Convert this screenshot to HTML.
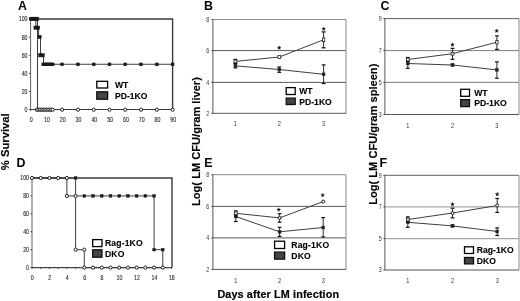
<!DOCTYPE html>
<html><head><meta charset="utf-8"><title>Figure</title>
<style>
html,body{margin:0;padding:0;background:#fff;}
body{width:520px;height:301px;overflow:hidden;font-family:"Liberation Sans", sans-serif;}
svg{display:block;font-family:"Liberation Sans", sans-serif;}
</style></head><body>
<svg width="520" height="301" viewBox="0 0 520 301">
<rect x="0" y="0" width="520" height="301" fill="#fff"/>
<defs><filter id="bl" x="-2%" y="-2%" width="104%" height="104%"><feGaussianBlur stdDeviation="0.33"/></filter></defs>
<g filter="url(#bl)">
<line x1="30.60" y1="19.00" x2="173.20" y2="19.00" stroke="#3a3a3a" stroke-width="1.4"/>
<line x1="172.60" y1="19.00" x2="172.60" y2="109.50" stroke="#3a3a3a" stroke-width="1.4"/>
<line x1="30.60" y1="109.50" x2="172.60" y2="109.50" stroke="#444" stroke-width="1.1"/>
<line x1="30.60" y1="19.00" x2="30.60" y2="109.50" stroke="#606060" stroke-width="1.0"/>
<line x1="29.10" y1="109.50" x2="30.60" y2="109.50" stroke="#3c3c3c" stroke-width="1"/>
<text transform="translate(27.50,111.90) scale(0.8,1)" font-size="6.6" text-anchor="end" fill="#2a2a2a" stroke="#2a2a2a" stroke-width="0.12">0</text>
<line x1="29.10" y1="91.40" x2="30.60" y2="91.40" stroke="#3c3c3c" stroke-width="1"/>
<text transform="translate(27.50,93.80) scale(0.8,1)" font-size="6.6" text-anchor="end" fill="#2a2a2a" stroke="#2a2a2a" stroke-width="0.12">20</text>
<line x1="29.10" y1="73.30" x2="30.60" y2="73.30" stroke="#3c3c3c" stroke-width="1"/>
<text transform="translate(27.50,75.70) scale(0.8,1)" font-size="6.6" text-anchor="end" fill="#2a2a2a" stroke="#2a2a2a" stroke-width="0.12">40</text>
<line x1="29.10" y1="55.20" x2="30.60" y2="55.20" stroke="#3c3c3c" stroke-width="1"/>
<text transform="translate(27.50,57.60) scale(0.8,1)" font-size="6.6" text-anchor="end" fill="#2a2a2a" stroke="#2a2a2a" stroke-width="0.12">60</text>
<line x1="29.10" y1="37.10" x2="30.60" y2="37.10" stroke="#3c3c3c" stroke-width="1"/>
<text transform="translate(27.50,39.50) scale(0.8,1)" font-size="6.6" text-anchor="end" fill="#2a2a2a" stroke="#2a2a2a" stroke-width="0.12">80</text>
<line x1="29.10" y1="19.00" x2="30.60" y2="19.00" stroke="#3c3c3c" stroke-width="1"/>
<text transform="translate(27.50,21.40) scale(0.8,1)" font-size="6.6" text-anchor="end" fill="#2a2a2a" stroke="#2a2a2a" stroke-width="0.12">100</text>
<line x1="30.60" y1="109.50" x2="30.60" y2="110.80" stroke="#3c3c3c" stroke-width="1"/>
<text transform="translate(31.20,121.80) scale(0.8,1)" font-size="6.6" text-anchor="middle" fill="#2a2a2a" stroke="#2a2a2a" stroke-width="0.12">0</text>
<line x1="46.38" y1="109.50" x2="46.38" y2="110.80" stroke="#3c3c3c" stroke-width="1"/>
<text transform="translate(46.98,121.80) scale(0.8,1)" font-size="6.6" text-anchor="middle" fill="#2a2a2a" stroke="#2a2a2a" stroke-width="0.12">10</text>
<line x1="62.16" y1="109.50" x2="62.16" y2="110.80" stroke="#3c3c3c" stroke-width="1"/>
<text transform="translate(62.76,121.80) scale(0.8,1)" font-size="6.6" text-anchor="middle" fill="#2a2a2a" stroke="#2a2a2a" stroke-width="0.12">20</text>
<line x1="77.94" y1="109.50" x2="77.94" y2="110.80" stroke="#3c3c3c" stroke-width="1"/>
<text transform="translate(78.54,121.80) scale(0.8,1)" font-size="6.6" text-anchor="middle" fill="#2a2a2a" stroke="#2a2a2a" stroke-width="0.12">30</text>
<line x1="93.72" y1="109.50" x2="93.72" y2="110.80" stroke="#3c3c3c" stroke-width="1"/>
<text transform="translate(94.32,121.80) scale(0.8,1)" font-size="6.6" text-anchor="middle" fill="#2a2a2a" stroke="#2a2a2a" stroke-width="0.12">40</text>
<line x1="109.50" y1="109.50" x2="109.50" y2="110.80" stroke="#3c3c3c" stroke-width="1"/>
<text transform="translate(110.10,121.80) scale(0.8,1)" font-size="6.6" text-anchor="middle" fill="#2a2a2a" stroke="#2a2a2a" stroke-width="0.12">50</text>
<line x1="125.28" y1="109.50" x2="125.28" y2="110.80" stroke="#3c3c3c" stroke-width="1"/>
<text transform="translate(125.88,121.80) scale(0.8,1)" font-size="6.6" text-anchor="middle" fill="#2a2a2a" stroke="#2a2a2a" stroke-width="0.12">60</text>
<line x1="141.06" y1="109.50" x2="141.06" y2="110.80" stroke="#3c3c3c" stroke-width="1"/>
<text transform="translate(141.66,121.80) scale(0.8,1)" font-size="6.6" text-anchor="middle" fill="#2a2a2a" stroke="#2a2a2a" stroke-width="0.12">70</text>
<line x1="156.84" y1="109.50" x2="156.84" y2="110.80" stroke="#3c3c3c" stroke-width="1"/>
<text transform="translate(157.44,121.80) scale(0.8,1)" font-size="6.6" text-anchor="middle" fill="#2a2a2a" stroke="#2a2a2a" stroke-width="0.12">80</text>
<line x1="172.62" y1="109.50" x2="172.62" y2="110.80" stroke="#3c3c3c" stroke-width="1"/>
<text transform="translate(173.22,121.80) scale(0.8,1)" font-size="6.6" text-anchor="middle" fill="#2a2a2a" stroke="#2a2a2a" stroke-width="0.12">90</text>
<polyline points="30.60,19.00 37.50,19.00 37.50,109.50 172.62,109.50" fill="none" stroke="#3e3e3e" stroke-width="1.0"/>
<polyline points="30.60,19.00 35.90,19.00 35.90,28.05 38.60,28.05 38.60,37.10 40.50,37.10 40.50,55.20 43.50,55.20 43.50,64.25 172.62,64.25" fill="none" stroke="#3e3e3e" stroke-width="1.0"/>
<circle cx="36.91" cy="109.70" r="1.6" fill="#fff" stroke="#1c1c1c" stroke-width="1.0"/>
<circle cx="38.49" cy="109.70" r="1.6" fill="#fff" stroke="#1c1c1c" stroke-width="1.0"/>
<circle cx="40.07" cy="109.70" r="1.6" fill="#fff" stroke="#1c1c1c" stroke-width="1.0"/>
<circle cx="41.65" cy="109.70" r="1.6" fill="#fff" stroke="#1c1c1c" stroke-width="1.0"/>
<circle cx="43.22" cy="109.70" r="1.6" fill="#fff" stroke="#1c1c1c" stroke-width="1.0"/>
<circle cx="44.80" cy="109.70" r="1.6" fill="#fff" stroke="#1c1c1c" stroke-width="1.0"/>
<circle cx="46.38" cy="109.70" r="1.6" fill="#fff" stroke="#1c1c1c" stroke-width="1.0"/>
<circle cx="47.96" cy="109.70" r="1.6" fill="#fff" stroke="#1c1c1c" stroke-width="1.0"/>
<circle cx="49.54" cy="109.70" r="1.6" fill="#fff" stroke="#1c1c1c" stroke-width="1.0"/>
<circle cx="51.11" cy="109.70" r="1.6" fill="#fff" stroke="#1c1c1c" stroke-width="1.0"/>
<circle cx="52.69" cy="109.70" r="1.6" fill="#fff" stroke="#1c1c1c" stroke-width="1.0"/>
<circle cx="62.16" cy="109.70" r="1.6" fill="#fff" stroke="#1c1c1c" stroke-width="1.0"/>
<circle cx="77.94" cy="109.70" r="1.6" fill="#fff" stroke="#1c1c1c" stroke-width="1.0"/>
<circle cx="93.72" cy="109.70" r="1.6" fill="#fff" stroke="#1c1c1c" stroke-width="1.0"/>
<circle cx="109.50" cy="109.70" r="1.6" fill="#fff" stroke="#1c1c1c" stroke-width="1.0"/>
<circle cx="125.28" cy="109.70" r="1.6" fill="#fff" stroke="#1c1c1c" stroke-width="1.0"/>
<circle cx="141.06" cy="109.70" r="1.6" fill="#fff" stroke="#1c1c1c" stroke-width="1.0"/>
<circle cx="156.84" cy="109.70" r="1.6" fill="#fff" stroke="#1c1c1c" stroke-width="1.0"/>
<circle cx="172.62" cy="109.70" r="1.6" fill="#fff" stroke="#1c1c1c" stroke-width="1.0"/>
<rect x="29.30" y="17.20" width="3.20" height="3.20" fill="#1a1a1a" stroke="#1a1a1a" stroke-width="0.5"/>
<rect x="30.88" y="17.20" width="3.20" height="3.20" fill="#1a1a1a" stroke="#1a1a1a" stroke-width="0.5"/>
<rect x="32.46" y="17.20" width="3.20" height="3.20" fill="#1a1a1a" stroke="#1a1a1a" stroke-width="0.5"/>
<rect x="34.03" y="17.20" width="3.20" height="3.20" fill="#1a1a1a" stroke="#1a1a1a" stroke-width="0.5"/>
<rect x="35.61" y="17.20" width="3.20" height="3.20" fill="#1a1a1a" stroke="#1a1a1a" stroke-width="0.5"/>
<rect x="33.90" y="26.05" width="3.20" height="3.20" fill="#1a1a1a" stroke="#1a1a1a" stroke-width="0.5"/>
<rect x="36.50" y="26.05" width="3.20" height="3.20" fill="#1a1a1a" stroke="#1a1a1a" stroke-width="0.5"/>
<rect x="38.00" y="35.40" width="3.20" height="3.20" fill="#1a1a1a" stroke="#1a1a1a" stroke-width="0.5"/>
<rect x="38.60" y="53.70" width="3.20" height="3.20" fill="#1a1a1a" stroke="#1a1a1a" stroke-width="0.5"/>
<rect x="41.20" y="53.70" width="3.20" height="3.20" fill="#1a1a1a" stroke="#1a1a1a" stroke-width="0.5"/>
<rect x="41.82" y="62.95" width="2.80" height="2.80" fill="#1a1a1a" stroke="#1a1a1a" stroke-width="0.5"/>
<rect x="43.40" y="62.95" width="2.80" height="2.80" fill="#1a1a1a" stroke="#1a1a1a" stroke-width="0.5"/>
<rect x="44.98" y="62.95" width="2.80" height="2.80" fill="#1a1a1a" stroke="#1a1a1a" stroke-width="0.5"/>
<rect x="46.56" y="62.95" width="2.80" height="2.80" fill="#1a1a1a" stroke="#1a1a1a" stroke-width="0.5"/>
<rect x="48.14" y="62.95" width="2.80" height="2.80" fill="#1a1a1a" stroke="#1a1a1a" stroke-width="0.5"/>
<rect x="49.71" y="62.95" width="2.80" height="2.80" fill="#1a1a1a" stroke="#1a1a1a" stroke-width="0.5"/>
<rect x="51.29" y="62.95" width="2.80" height="2.80" fill="#1a1a1a" stroke="#1a1a1a" stroke-width="0.5"/>
<rect x="60.76" y="62.95" width="2.80" height="2.80" fill="#1a1a1a" stroke="#1a1a1a" stroke-width="0.5"/>
<rect x="76.54" y="62.95" width="2.80" height="2.80" fill="#1a1a1a" stroke="#1a1a1a" stroke-width="0.5"/>
<rect x="92.32" y="62.95" width="2.80" height="2.80" fill="#1a1a1a" stroke="#1a1a1a" stroke-width="0.5"/>
<rect x="108.10" y="62.95" width="2.80" height="2.80" fill="#1a1a1a" stroke="#1a1a1a" stroke-width="0.5"/>
<rect x="123.88" y="62.95" width="2.80" height="2.80" fill="#1a1a1a" stroke="#1a1a1a" stroke-width="0.5"/>
<rect x="139.66" y="62.95" width="2.80" height="2.80" fill="#1a1a1a" stroke="#1a1a1a" stroke-width="0.5"/>
<rect x="155.44" y="62.95" width="2.80" height="2.80" fill="#1a1a1a" stroke="#1a1a1a" stroke-width="0.5"/>
<rect x="171.22" y="62.95" width="2.80" height="2.80" fill="#1a1a1a" stroke="#1a1a1a" stroke-width="0.5"/>
<rect x="96.80" y="81.30" width="10.80" height="6.70" fill="#fff" stroke="#000" stroke-width="1.3"/>
<rect x="96.80" y="91.80" width="10.80" height="7.40" fill="#444" stroke="#111" stroke-width="1.3"/>
<text x="114.90" y="87.70" font-size="8.6" text-anchor="start" font-weight="bold" fill="#000" letter-spacing="0.03" stroke="#000" stroke-width="0.12">WT</text>
<text x="114.90" y="98.70" font-size="8.6" text-anchor="start" font-weight="bold" fill="#000" letter-spacing="0.03" stroke="#000" stroke-width="0.12">PD-1KO</text>
<text x="18.00" y="9.70" font-size="12.4" text-anchor="start" font-weight="bold" fill="#000" >A</text>
<line x1="32.00" y1="178.00" x2="172.60" y2="178.00" stroke="#3a3a3a" stroke-width="1.4"/>
<line x1="172.00" y1="178.00" x2="172.00" y2="267.60" stroke="#3a3a3a" stroke-width="1.4"/>
<line x1="32.00" y1="267.60" x2="172.00" y2="267.60" stroke="#444" stroke-width="1.1"/>
<line x1="32.00" y1="178.00" x2="32.00" y2="267.60" stroke="#606060" stroke-width="1.0"/>
<line x1="30.50" y1="267.60" x2="32.00" y2="267.60" stroke="#3c3c3c" stroke-width="1"/>
<text transform="translate(29.00,270.00) scale(0.8,1)" font-size="6.6" text-anchor="end" fill="#2a2a2a" stroke="#2a2a2a" stroke-width="0.12">0</text>
<line x1="30.50" y1="249.68" x2="32.00" y2="249.68" stroke="#3c3c3c" stroke-width="1"/>
<text transform="translate(29.00,252.08) scale(0.8,1)" font-size="6.6" text-anchor="end" fill="#2a2a2a" stroke="#2a2a2a" stroke-width="0.12">20</text>
<line x1="30.50" y1="231.76" x2="32.00" y2="231.76" stroke="#3c3c3c" stroke-width="1"/>
<text transform="translate(29.00,234.16) scale(0.8,1)" font-size="6.6" text-anchor="end" fill="#2a2a2a" stroke="#2a2a2a" stroke-width="0.12">40</text>
<line x1="30.50" y1="213.84" x2="32.00" y2="213.84" stroke="#3c3c3c" stroke-width="1"/>
<text transform="translate(29.00,216.24) scale(0.8,1)" font-size="6.6" text-anchor="end" fill="#2a2a2a" stroke="#2a2a2a" stroke-width="0.12">60</text>
<line x1="30.50" y1="195.92" x2="32.00" y2="195.92" stroke="#3c3c3c" stroke-width="1"/>
<text transform="translate(29.00,198.32) scale(0.8,1)" font-size="6.6" text-anchor="end" fill="#2a2a2a" stroke="#2a2a2a" stroke-width="0.12">80</text>
<line x1="30.50" y1="178.00" x2="32.00" y2="178.00" stroke="#3c3c3c" stroke-width="1"/>
<text transform="translate(29.00,180.40) scale(0.8,1)" font-size="6.6" text-anchor="end" fill="#2a2a2a" stroke="#2a2a2a" stroke-width="0.12">100</text>
<text transform="translate(32.30,279.90) scale(0.8,1)" font-size="6.6" text-anchor="middle" fill="#2a2a2a" stroke="#2a2a2a" stroke-width="0.12">0</text>
<text transform="translate(49.74,279.90) scale(0.8,1)" font-size="6.6" text-anchor="middle" fill="#2a2a2a" stroke="#2a2a2a" stroke-width="0.12">2</text>
<text transform="translate(67.18,279.90) scale(0.8,1)" font-size="6.6" text-anchor="middle" fill="#2a2a2a" stroke="#2a2a2a" stroke-width="0.12">4</text>
<text transform="translate(84.62,279.90) scale(0.8,1)" font-size="6.6" text-anchor="middle" fill="#2a2a2a" stroke="#2a2a2a" stroke-width="0.12">6</text>
<text transform="translate(102.06,279.90) scale(0.8,1)" font-size="6.6" text-anchor="middle" fill="#2a2a2a" stroke="#2a2a2a" stroke-width="0.12">8</text>
<text transform="translate(119.50,279.90) scale(0.8,1)" font-size="6.6" text-anchor="middle" fill="#2a2a2a" stroke="#2a2a2a" stroke-width="0.12">10</text>
<text transform="translate(136.94,279.90) scale(0.8,1)" font-size="6.6" text-anchor="middle" fill="#2a2a2a" stroke="#2a2a2a" stroke-width="0.12">12</text>
<text transform="translate(154.38,279.90) scale(0.8,1)" font-size="6.6" text-anchor="middle" fill="#2a2a2a" stroke="#2a2a2a" stroke-width="0.12">14</text>
<text transform="translate(171.82,279.90) scale(0.8,1)" font-size="6.6" text-anchor="middle" fill="#2a2a2a" stroke="#2a2a2a" stroke-width="0.12">16</text>
<line x1="32.00" y1="267.60" x2="32.00" y2="268.90" stroke="#3c3c3c" stroke-width="1"/>
<line x1="40.72" y1="267.60" x2="40.72" y2="268.90" stroke="#3c3c3c" stroke-width="1"/>
<line x1="49.44" y1="267.60" x2="49.44" y2="268.90" stroke="#3c3c3c" stroke-width="1"/>
<line x1="58.16" y1="267.60" x2="58.16" y2="268.90" stroke="#3c3c3c" stroke-width="1"/>
<line x1="66.88" y1="267.60" x2="66.88" y2="268.90" stroke="#3c3c3c" stroke-width="1"/>
<line x1="75.60" y1="267.60" x2="75.60" y2="268.90" stroke="#3c3c3c" stroke-width="1"/>
<line x1="84.32" y1="267.60" x2="84.32" y2="268.90" stroke="#3c3c3c" stroke-width="1"/>
<line x1="93.04" y1="267.60" x2="93.04" y2="268.90" stroke="#3c3c3c" stroke-width="1"/>
<line x1="101.76" y1="267.60" x2="101.76" y2="268.90" stroke="#3c3c3c" stroke-width="1"/>
<line x1="110.48" y1="267.60" x2="110.48" y2="268.90" stroke="#3c3c3c" stroke-width="1"/>
<line x1="119.20" y1="267.60" x2="119.20" y2="268.90" stroke="#3c3c3c" stroke-width="1"/>
<line x1="127.92" y1="267.60" x2="127.92" y2="268.90" stroke="#3c3c3c" stroke-width="1"/>
<line x1="136.64" y1="267.60" x2="136.64" y2="268.90" stroke="#3c3c3c" stroke-width="1"/>
<line x1="145.36" y1="267.60" x2="145.36" y2="268.90" stroke="#3c3c3c" stroke-width="1"/>
<line x1="154.08" y1="267.60" x2="154.08" y2="268.90" stroke="#3c3c3c" stroke-width="1"/>
<line x1="162.80" y1="267.60" x2="162.80" y2="268.90" stroke="#3c3c3c" stroke-width="1"/>
<line x1="171.52" y1="267.60" x2="171.52" y2="268.90" stroke="#3c3c3c" stroke-width="1"/>
<polyline points="32.00,178.00 66.88,178.00 66.88,195.92 75.60,195.92 75.60,249.68 84.32,249.68 84.32,267.60 162.80,267.60" fill="none" stroke="#3e3e3e" stroke-width="1.0"/>
<polyline points="32.00,178.00 75.60,178.00 75.60,195.92 154.08,195.92 154.08,249.68 162.80,249.68 162.80,267.60" fill="none" stroke="#3e3e3e" stroke-width="1.0"/>
<rect x="74.30" y="176.70" width="2.60" height="2.60" fill="#1a1a1a" stroke="#1a1a1a" stroke-width="0.5"/>
<rect x="83.02" y="194.62" width="2.60" height="2.60" fill="#1a1a1a" stroke="#1a1a1a" stroke-width="0.5"/>
<rect x="91.74" y="194.62" width="2.60" height="2.60" fill="#1a1a1a" stroke="#1a1a1a" stroke-width="0.5"/>
<rect x="100.46" y="194.62" width="2.60" height="2.60" fill="#1a1a1a" stroke="#1a1a1a" stroke-width="0.5"/>
<rect x="109.18" y="194.62" width="2.60" height="2.60" fill="#1a1a1a" stroke="#1a1a1a" stroke-width="0.5"/>
<rect x="117.90" y="194.62" width="2.60" height="2.60" fill="#1a1a1a" stroke="#1a1a1a" stroke-width="0.5"/>
<rect x="126.62" y="194.62" width="2.60" height="2.60" fill="#1a1a1a" stroke="#1a1a1a" stroke-width="0.5"/>
<rect x="135.34" y="194.62" width="2.60" height="2.60" fill="#1a1a1a" stroke="#1a1a1a" stroke-width="0.5"/>
<rect x="144.06" y="194.62" width="2.60" height="2.60" fill="#1a1a1a" stroke="#1a1a1a" stroke-width="0.5"/>
<rect x="152.78" y="194.62" width="2.60" height="2.60" fill="#1a1a1a" stroke="#1a1a1a" stroke-width="0.5"/>
<rect x="152.78" y="248.38" width="2.60" height="2.60" fill="#1a1a1a" stroke="#1a1a1a" stroke-width="0.5"/>
<rect x="161.50" y="248.38" width="2.60" height="2.60" fill="#1a1a1a" stroke="#1a1a1a" stroke-width="0.5"/>
<circle cx="32.00" cy="178.00" r="1.6" fill="#fff" stroke="#1c1c1c" stroke-width="1.0"/>
<circle cx="40.72" cy="178.00" r="1.6" fill="#fff" stroke="#1c1c1c" stroke-width="1.0"/>
<circle cx="49.44" cy="178.00" r="1.6" fill="#fff" stroke="#1c1c1c" stroke-width="1.0"/>
<circle cx="58.16" cy="178.00" r="1.6" fill="#fff" stroke="#1c1c1c" stroke-width="1.0"/>
<circle cx="66.88" cy="178.00" r="1.6" fill="#fff" stroke="#1c1c1c" stroke-width="1.0"/>
<circle cx="66.88" cy="195.92" r="1.6" fill="#fff" stroke="#1c1c1c" stroke-width="1.0"/>
<circle cx="75.60" cy="195.92" r="1.6" fill="#fff" stroke="#1c1c1c" stroke-width="1.0"/>
<circle cx="75.60" cy="249.68" r="1.6" fill="#fff" stroke="#1c1c1c" stroke-width="1.0"/>
<circle cx="84.32" cy="249.68" r="1.6" fill="#fff" stroke="#1c1c1c" stroke-width="1.0"/>
<circle cx="84.32" cy="267.60" r="1.6" fill="#fff" stroke="#1c1c1c" stroke-width="1.0"/>
<circle cx="93.04" cy="267.60" r="1.6" fill="#fff" stroke="#1c1c1c" stroke-width="1.0"/>
<circle cx="101.76" cy="267.60" r="1.6" fill="#fff" stroke="#1c1c1c" stroke-width="1.0"/>
<circle cx="110.48" cy="267.60" r="1.6" fill="#fff" stroke="#1c1c1c" stroke-width="1.0"/>
<circle cx="119.20" cy="267.60" r="1.6" fill="#fff" stroke="#1c1c1c" stroke-width="1.0"/>
<circle cx="127.92" cy="267.60" r="1.6" fill="#fff" stroke="#1c1c1c" stroke-width="1.0"/>
<circle cx="136.64" cy="267.60" r="1.6" fill="#fff" stroke="#1c1c1c" stroke-width="1.0"/>
<circle cx="145.36" cy="267.60" r="1.6" fill="#fff" stroke="#1c1c1c" stroke-width="1.0"/>
<circle cx="154.08" cy="267.60" r="1.6" fill="#fff" stroke="#1c1c1c" stroke-width="1.0"/>
<circle cx="162.80" cy="267.60" r="1.6" fill="#fff" stroke="#1c1c1c" stroke-width="1.0"/>
<rect x="92.70" y="239.60" width="9.30" height="7.00" fill="#fff" stroke="#000" stroke-width="1.3"/>
<rect x="92.70" y="249.80" width="9.30" height="7.40" fill="#444" stroke="#111" stroke-width="1.3"/>
<text x="104.90" y="246.15" font-size="8.6" text-anchor="start" font-weight="bold" fill="#000" letter-spacing="0.17" stroke="#000" stroke-width="0.12">Rag-1KO</text>
<text x="104.90" y="256.70" font-size="8.6" text-anchor="start" font-weight="bold" fill="#000" letter-spacing="0.17" stroke="#000" stroke-width="0.12">DKO</text>
<text x="16.60" y="166.90" font-size="12.4" text-anchor="start" font-weight="bold" fill="#000" >D</text>
<text transform="translate(9.3,141.8) rotate(-90)" font-size="11.25" font-weight="bold" text-anchor="middle" fill="#000" stroke="#000" stroke-width="0.15">% Survival</text>
<line x1="212.90" y1="82.40" x2="346.00" y2="82.40" stroke="#5a5a5a" stroke-width="1"/>
<line x1="212.90" y1="50.60" x2="346.00" y2="50.60" stroke="#5a5a5a" stroke-width="1"/>
<line x1="212.90" y1="19.50" x2="346.00" y2="19.50" stroke="#8a8a8a" stroke-width="1"/>
<line x1="346.00" y1="19.50" x2="346.00" y2="113.30" stroke="#8a8a8a" stroke-width="1"/>
<line x1="212.90" y1="19.50" x2="212.90" y2="113.30" stroke="#555" stroke-width="1"/>
<line x1="212.90" y1="113.30" x2="346.00" y2="113.30" stroke="#555" stroke-width="1"/>
<line x1="211.40" y1="113.40" x2="212.90" y2="113.40" stroke="#3c3c3c" stroke-width="1"/>
<text transform="translate(209.10,115.70) scale(0.8,1)" font-size="6.6" text-anchor="end" fill="#333" stroke="#333" stroke-width="0.0">2</text>
<line x1="211.40" y1="82.40" x2="212.90" y2="82.40" stroke="#3c3c3c" stroke-width="1"/>
<text transform="translate(209.10,84.70) scale(0.8,1)" font-size="6.6" text-anchor="end" fill="#333" stroke="#333" stroke-width="0.0">4</text>
<line x1="211.40" y1="50.60" x2="212.90" y2="50.60" stroke="#3c3c3c" stroke-width="1"/>
<text transform="translate(209.10,52.90) scale(0.8,1)" font-size="6.6" text-anchor="end" fill="#333" stroke="#333" stroke-width="0.0">6</text>
<line x1="211.40" y1="19.50" x2="212.90" y2="19.50" stroke="#3c3c3c" stroke-width="1"/>
<text transform="translate(209.10,21.80) scale(0.8,1)" font-size="6.6" text-anchor="end" fill="#333" stroke="#333" stroke-width="0.0">8</text>
<text transform="translate(235.40,126.20) scale(0.8,1)" font-size="7.0" text-anchor="middle" fill="#333" stroke="#333" stroke-width="0.0">1</text>
<text transform="translate(279.30,126.20) scale(0.8,1)" font-size="7.0" text-anchor="middle" fill="#333" stroke="#333" stroke-width="0.0">2</text>
<text transform="translate(323.60,126.20) scale(0.8,1)" font-size="7.0" text-anchor="middle" fill="#333" stroke="#333" stroke-width="0.0">3</text>
<polyline points="235.40,65.90 279.30,69.50 323.60,74.30" fill="none" stroke="#3e3e3e" stroke-width="1.0"/>
<line x1="235.40" y1="63.90" x2="235.40" y2="67.90" stroke="#222" stroke-width="0.95"/>
<line x1="233.50" y1="63.90" x2="237.30" y2="63.90" stroke="#111" stroke-width="1.2"/>
<line x1="233.50" y1="67.90" x2="237.30" y2="67.90" stroke="#111" stroke-width="1.2"/>
<line x1="279.30" y1="67.00" x2="279.30" y2="72.30" stroke="#222" stroke-width="0.95"/>
<line x1="277.40" y1="67.00" x2="281.20" y2="67.00" stroke="#111" stroke-width="1.2"/>
<line x1="277.40" y1="72.30" x2="281.20" y2="72.30" stroke="#111" stroke-width="1.2"/>
<line x1="323.60" y1="64.90" x2="323.60" y2="83.50" stroke="#222" stroke-width="0.95"/>
<line x1="321.70" y1="64.90" x2="325.50" y2="64.90" stroke="#111" stroke-width="1.2"/>
<line x1="321.70" y1="83.50" x2="325.50" y2="83.50" stroke="#111" stroke-width="1.2"/>
<rect x="234.00" y="64.50" width="2.80" height="2.80" fill="#222" stroke="#222" stroke-width="0.5"/>
<rect x="277.90" y="68.10" width="2.80" height="2.80" fill="#222" stroke="#222" stroke-width="0.5"/>
<rect x="322.20" y="72.90" width="2.80" height="2.80" fill="#222" stroke="#222" stroke-width="0.5"/>
<polyline points="235.40,61.40 279.30,57.00 323.60,39.80" fill="none" stroke="#3e3e3e" stroke-width="1.0"/>
<line x1="235.40" y1="59.40" x2="235.40" y2="63.40" stroke="#222" stroke-width="0.95"/>
<line x1="233.50" y1="59.40" x2="237.30" y2="59.40" stroke="#111" stroke-width="1.2"/>
<line x1="233.50" y1="63.40" x2="237.30" y2="63.40" stroke="#111" stroke-width="1.2"/>
<line x1="323.60" y1="31.90" x2="323.60" y2="47.80" stroke="#222" stroke-width="0.95"/>
<line x1="321.70" y1="31.90" x2="325.50" y2="31.90" stroke="#111" stroke-width="1.2"/>
<line x1="321.70" y1="47.80" x2="325.50" y2="47.80" stroke="#111" stroke-width="1.2"/>
<rect x="234.00" y="60.00" width="2.80" height="2.80" fill="#fff" stroke="#222" stroke-width="0.8"/>
<rect x="277.90" y="55.60" width="2.80" height="2.80" fill="#fff" stroke="#222" stroke-width="0.8"/>
<rect x="322.45" y="38.00" width="2.3" height="3.6" fill="#fff" stroke="#222" stroke-width="0.8"/>
<polygon points="279.20,45.85 279.70,47.11 281.05,47.20 280.01,48.06 280.35,49.38 279.20,48.65 278.05,49.38 278.39,48.06 277.35,47.20 278.70,47.11" fill="#111" stroke="#111" stroke-width="0.3"/>
<polygon points="323.70,26.95 324.20,28.21 325.55,28.30 324.51,29.16 324.85,30.48 323.70,29.75 322.55,30.48 322.89,29.16 321.85,28.30 323.20,28.21" fill="#111" stroke="#111" stroke-width="0.3"/>
<rect x="286.20" y="87.60" width="9.00" height="6.90" fill="#fff" stroke="#000" stroke-width="1.3"/>
<rect x="286.20" y="98.10" width="9.00" height="6.40" fill="#444" stroke="#111" stroke-width="1.3"/>
<text x="299.20" y="94.10" font-size="8.6" text-anchor="start" font-weight="bold" fill="#000" letter-spacing="0.03" stroke="#000" stroke-width="0.12">WT</text>
<text x="299.20" y="104.50" font-size="8.6" text-anchor="start" font-weight="bold" fill="#000" letter-spacing="0.03" stroke="#000" stroke-width="0.12">PD-1KO</text>
<text x="203.90" y="9.90" font-size="12.4" text-anchor="start" font-weight="bold" fill="#000" >B</text>
<line x1="212.90" y1="237.90" x2="346.00" y2="237.90" stroke="#5a5a5a" stroke-width="1"/>
<line x1="212.90" y1="206.40" x2="346.00" y2="206.40" stroke="#5a5a5a" stroke-width="1"/>
<line x1="212.90" y1="174.70" x2="346.00" y2="174.70" stroke="#8a8a8a" stroke-width="1"/>
<line x1="346.00" y1="174.80" x2="346.00" y2="269.40" stroke="#8a8a8a" stroke-width="1"/>
<line x1="212.90" y1="174.80" x2="212.90" y2="269.40" stroke="#555" stroke-width="1"/>
<line x1="212.90" y1="269.40" x2="346.00" y2="269.40" stroke="#555" stroke-width="1"/>
<line x1="211.40" y1="269.40" x2="212.90" y2="269.40" stroke="#3c3c3c" stroke-width="1"/>
<text transform="translate(209.10,271.70) scale(0.8,1)" font-size="6.6" text-anchor="end" fill="#333" stroke="#333" stroke-width="0.0">2</text>
<line x1="211.40" y1="237.90" x2="212.90" y2="237.90" stroke="#3c3c3c" stroke-width="1"/>
<text transform="translate(209.10,240.20) scale(0.8,1)" font-size="6.6" text-anchor="end" fill="#333" stroke="#333" stroke-width="0.0">4</text>
<line x1="211.40" y1="206.40" x2="212.90" y2="206.40" stroke="#3c3c3c" stroke-width="1"/>
<text transform="translate(209.10,208.70) scale(0.8,1)" font-size="6.6" text-anchor="end" fill="#333" stroke="#333" stroke-width="0.0">6</text>
<line x1="211.40" y1="174.70" x2="212.90" y2="174.70" stroke="#3c3c3c" stroke-width="1"/>
<text transform="translate(209.10,177.00) scale(0.8,1)" font-size="6.6" text-anchor="end" fill="#333" stroke="#333" stroke-width="0.0">8</text>
<text transform="translate(235.80,282.80) scale(0.8,1)" font-size="7.0" text-anchor="middle" fill="#333" stroke="#333" stroke-width="0.0">1</text>
<text transform="translate(279.60,282.80) scale(0.8,1)" font-size="7.0" text-anchor="middle" fill="#333" stroke="#333" stroke-width="0.0">2</text>
<text transform="translate(323.20,282.80) scale(0.8,1)" font-size="7.0" text-anchor="middle" fill="#333" stroke="#333" stroke-width="0.0">3</text>
<polyline points="235.80,216.50 279.60,231.80 323.20,227.50" fill="none" stroke="#3e3e3e" stroke-width="1.0"/>
<line x1="235.80" y1="213.50" x2="235.80" y2="221.50" stroke="#222" stroke-width="0.95"/>
<line x1="233.90" y1="213.50" x2="237.70" y2="213.50" stroke="#111" stroke-width="1.2"/>
<line x1="233.90" y1="221.50" x2="237.70" y2="221.50" stroke="#111" stroke-width="1.2"/>
<line x1="279.60" y1="227.30" x2="279.60" y2="236.40" stroke="#222" stroke-width="0.95"/>
<line x1="277.70" y1="227.30" x2="281.50" y2="227.30" stroke="#111" stroke-width="1.2"/>
<line x1="277.70" y1="236.40" x2="281.50" y2="236.40" stroke="#111" stroke-width="1.2"/>
<line x1="323.20" y1="217.60" x2="323.20" y2="236.90" stroke="#222" stroke-width="0.95"/>
<line x1="321.30" y1="217.60" x2="325.10" y2="217.60" stroke="#111" stroke-width="1.2"/>
<line x1="321.30" y1="236.90" x2="325.10" y2="236.90" stroke="#111" stroke-width="1.2"/>
<rect x="234.40" y="215.10" width="2.80" height="2.80" fill="#222" stroke="#222" stroke-width="0.5"/>
<rect x="278.20" y="230.40" width="2.80" height="2.80" fill="#222" stroke="#222" stroke-width="0.5"/>
<rect x="321.80" y="226.10" width="2.80" height="2.80" fill="#222" stroke="#222" stroke-width="0.5"/>
<polyline points="235.80,213.30 279.60,217.90 323.20,201.60" fill="none" stroke="#3e3e3e" stroke-width="1.0"/>
<line x1="235.80" y1="210.90" x2="235.80" y2="215.90" stroke="#222" stroke-width="0.95"/>
<line x1="233.90" y1="210.90" x2="237.70" y2="210.90" stroke="#111" stroke-width="1.2"/>
<line x1="233.90" y1="215.90" x2="237.70" y2="215.90" stroke="#111" stroke-width="1.2"/>
<line x1="279.60" y1="213.70" x2="279.60" y2="222.20" stroke="#222" stroke-width="0.95"/>
<line x1="277.70" y1="213.70" x2="281.50" y2="213.70" stroke="#111" stroke-width="1.2"/>
<line x1="277.70" y1="222.20" x2="281.50" y2="222.20" stroke="#111" stroke-width="1.2"/>
<rect x="234.40" y="211.90" width="2.80" height="2.80" fill="#fff" stroke="#222" stroke-width="0.8"/>
<circle cx="279.60" cy="217.90" r="1.5" fill="#fff" stroke="#1c1c1c" stroke-width="1.0"/>
<circle cx="323.20" cy="201.60" r="1.5" fill="#fff" stroke="#1c1c1c" stroke-width="1.0"/>
<polygon points="278.80,207.75 279.30,209.01 280.65,209.10 279.61,209.96 279.95,211.28 278.80,210.55 277.65,211.28 277.99,209.96 276.95,209.10 278.30,209.01" fill="#111" stroke="#111" stroke-width="0.3"/>
<polygon points="322.70,193.15 323.20,194.41 324.55,194.50 323.51,195.36 323.85,196.68 322.70,195.95 321.55,196.68 321.89,195.36 320.85,194.50 322.20,194.41" fill="#111" stroke="#111" stroke-width="0.3"/>
<rect x="274.60" y="241.20" width="10.00" height="7.30" fill="#fff" stroke="#000" stroke-width="1.3"/>
<rect x="274.60" y="252.10" width="10.00" height="7.00" fill="#444" stroke="#111" stroke-width="1.3"/>
<text x="291.30" y="247.90" font-size="8.6" text-anchor="start" font-weight="bold" fill="#000" letter-spacing="0.17" stroke="#000" stroke-width="0.12">Rag-1KO</text>
<text x="291.30" y="258.80" font-size="8.6" text-anchor="start" font-weight="bold" fill="#000" letter-spacing="0.17" stroke="#000" stroke-width="0.12">DKO</text>
<text x="204.20" y="166.95" font-size="12.4" text-anchor="start" font-weight="bold" fill="#000" >E</text>
<line x1="384.90" y1="82.40" x2="519.00" y2="82.40" stroke="#7c7c7c" stroke-width="1"/>
<line x1="384.90" y1="50.60" x2="519.00" y2="50.60" stroke="#7c7c7c" stroke-width="1"/>
<line x1="384.90" y1="18.60" x2="519.00" y2="18.60" stroke="#5e5e5e" stroke-width="1"/>
<line x1="519.00" y1="18.60" x2="519.00" y2="114.50" stroke="#8a8a8a" stroke-width="1"/>
<line x1="384.90" y1="18.60" x2="384.90" y2="114.50" stroke="#555" stroke-width="1"/>
<line x1="384.90" y1="114.50" x2="519.00" y2="114.50" stroke="#555" stroke-width="1"/>
<line x1="383.40" y1="114.40" x2="384.90" y2="114.40" stroke="#3c3c3c" stroke-width="1"/>
<text transform="translate(381.70,116.70) scale(0.8,1)" font-size="6.6" text-anchor="end" fill="#333" stroke="#333" stroke-width="0.0">3</text>
<line x1="383.40" y1="82.40" x2="384.90" y2="82.40" stroke="#3c3c3c" stroke-width="1"/>
<text transform="translate(381.70,84.70) scale(0.8,1)" font-size="6.6" text-anchor="end" fill="#333" stroke="#333" stroke-width="0.0">5</text>
<line x1="383.40" y1="50.60" x2="384.90" y2="50.60" stroke="#3c3c3c" stroke-width="1"/>
<text transform="translate(381.70,52.90) scale(0.8,1)" font-size="6.6" text-anchor="end" fill="#333" stroke="#333" stroke-width="0.0">7</text>
<line x1="383.40" y1="18.60" x2="384.90" y2="18.60" stroke="#3c3c3c" stroke-width="1"/>
<text transform="translate(381.70,20.90) scale(0.8,1)" font-size="6.6" text-anchor="end" fill="#333" stroke="#333" stroke-width="0.0">9</text>
<text transform="translate(407.80,128.00) scale(0.8,1)" font-size="7.0" text-anchor="middle" fill="#333" stroke="#333" stroke-width="0.0">1</text>
<text transform="translate(452.50,128.00) scale(0.8,1)" font-size="7.0" text-anchor="middle" fill="#333" stroke="#333" stroke-width="0.0">2</text>
<text transform="translate(496.90,128.00) scale(0.8,1)" font-size="7.0" text-anchor="middle" fill="#333" stroke="#333" stroke-width="0.0">3</text>
<polyline points="407.80,63.50 452.50,65.00 496.90,69.90" fill="none" stroke="#3e3e3e" stroke-width="1.0"/>
<line x1="407.80" y1="59.50" x2="407.80" y2="68.30" stroke="#222" stroke-width="0.95"/>
<line x1="405.90" y1="59.50" x2="409.70" y2="59.50" stroke="#111" stroke-width="1.2"/>
<line x1="405.90" y1="68.30" x2="409.70" y2="68.30" stroke="#111" stroke-width="1.2"/>
<line x1="452.50" y1="64.20" x2="452.50" y2="65.80" stroke="#222" stroke-width="0.95"/>
<line x1="450.60" y1="64.20" x2="454.40" y2="64.20" stroke="#111" stroke-width="1.2"/>
<line x1="450.60" y1="65.80" x2="454.40" y2="65.80" stroke="#111" stroke-width="1.2"/>
<line x1="496.90" y1="61.90" x2="496.90" y2="78.20" stroke="#222" stroke-width="0.95"/>
<line x1="495.00" y1="61.90" x2="498.80" y2="61.90" stroke="#111" stroke-width="1.2"/>
<line x1="495.00" y1="78.20" x2="498.80" y2="78.20" stroke="#111" stroke-width="1.2"/>
<rect x="406.40" y="62.10" width="2.80" height="2.80" fill="#222" stroke="#222" stroke-width="0.5"/>
<rect x="451.10" y="63.60" width="2.80" height="2.80" fill="#222" stroke="#222" stroke-width="0.5"/>
<rect x="495.50" y="68.50" width="2.80" height="2.80" fill="#222" stroke="#222" stroke-width="0.5"/>
<polyline points="407.80,59.50 452.50,53.70 496.90,42.20" fill="none" stroke="#3e3e3e" stroke-width="1.0"/>
<line x1="407.80" y1="57.50" x2="407.80" y2="61.50" stroke="#222" stroke-width="0.95"/>
<line x1="405.90" y1="57.50" x2="409.70" y2="57.50" stroke="#111" stroke-width="1.2"/>
<line x1="405.90" y1="61.50" x2="409.70" y2="61.50" stroke="#111" stroke-width="1.2"/>
<line x1="452.50" y1="48.40" x2="452.50" y2="59.30" stroke="#222" stroke-width="0.95"/>
<line x1="450.60" y1="48.40" x2="454.40" y2="48.40" stroke="#111" stroke-width="1.2"/>
<line x1="450.60" y1="59.30" x2="454.40" y2="59.30" stroke="#111" stroke-width="1.2"/>
<line x1="496.90" y1="35.90" x2="496.90" y2="49.40" stroke="#222" stroke-width="0.95"/>
<line x1="495.00" y1="35.90" x2="498.80" y2="35.90" stroke="#111" stroke-width="1.2"/>
<line x1="495.00" y1="49.40" x2="498.80" y2="49.40" stroke="#111" stroke-width="1.2"/>
<rect x="406.40" y="58.10" width="2.80" height="2.80" fill="#fff" stroke="#222" stroke-width="0.8"/>
<rect x="451.10" y="52.30" width="2.80" height="2.80" fill="#fff" stroke="#222" stroke-width="0.8"/>
<rect x="495.75" y="40.40" width="2.3" height="3.6" fill="#fff" stroke="#222" stroke-width="0.8"/>
<polygon points="452.50,42.85 453.00,44.11 454.35,44.20 453.31,45.06 453.65,46.38 452.50,45.65 451.35,46.38 451.69,45.06 450.65,44.20 452.00,44.11" fill="#111" stroke="#111" stroke-width="0.3"/>
<polygon points="496.70,28.95 497.20,30.21 498.55,30.30 497.51,31.16 497.85,32.48 496.70,31.75 495.55,32.48 495.89,31.16 494.85,30.30 496.20,30.21" fill="#111" stroke="#111" stroke-width="0.3"/>
<rect x="460.70" y="89.30" width="8.80" height="7.00" fill="#fff" stroke="#000" stroke-width="1.3"/>
<rect x="460.70" y="99.60" width="8.80" height="7.00" fill="#444" stroke="#111" stroke-width="1.3"/>
<text x="474.20" y="95.85" font-size="8.6" text-anchor="start" font-weight="bold" fill="#000" letter-spacing="0.03" stroke="#000" stroke-width="0.12">WT</text>
<text x="474.20" y="106.30" font-size="8.6" text-anchor="start" font-weight="bold" fill="#000" letter-spacing="0.03" stroke="#000" stroke-width="0.12">PD-1KO</text>
<text x="380.60" y="9.50" font-size="12.4" text-anchor="start" font-weight="bold" fill="#000" >C</text>
<line x1="384.90" y1="238.60" x2="519.00" y2="238.60" stroke="#a8a8a8" stroke-width="1.4"/>
<line x1="384.90" y1="206.90" x2="519.00" y2="206.90" stroke="#a8a8a8" stroke-width="1.4"/>
<line x1="384.90" y1="175.30" x2="519.00" y2="175.30" stroke="#5e5e5e" stroke-width="1"/>
<line x1="519.00" y1="175.30" x2="519.00" y2="270.00" stroke="#8a8a8a" stroke-width="1"/>
<line x1="384.90" y1="175.30" x2="384.90" y2="270.00" stroke="#555" stroke-width="1"/>
<line x1="384.90" y1="270.00" x2="519.00" y2="270.00" stroke="#555" stroke-width="1"/>
<line x1="383.40" y1="270.10" x2="384.90" y2="270.10" stroke="#3c3c3c" stroke-width="1"/>
<text transform="translate(381.70,272.40) scale(0.8,1)" font-size="6.6" text-anchor="end" fill="#333" stroke="#333" stroke-width="0.0">3</text>
<line x1="383.40" y1="238.60" x2="384.90" y2="238.60" stroke="#3c3c3c" stroke-width="1"/>
<text transform="translate(381.70,240.90) scale(0.8,1)" font-size="6.6" text-anchor="end" fill="#333" stroke="#333" stroke-width="0.0">5</text>
<line x1="383.40" y1="206.90" x2="384.90" y2="206.90" stroke="#3c3c3c" stroke-width="1"/>
<text transform="translate(381.70,209.20) scale(0.8,1)" font-size="6.6" text-anchor="end" fill="#333" stroke="#333" stroke-width="0.0">7</text>
<line x1="383.40" y1="175.30" x2="384.90" y2="175.30" stroke="#3c3c3c" stroke-width="1"/>
<text transform="translate(381.70,177.60) scale(0.8,1)" font-size="6.6" text-anchor="end" fill="#333" stroke="#333" stroke-width="0.0">9</text>
<text transform="translate(407.80,283.00) scale(0.8,1)" font-size="7.0" text-anchor="middle" fill="#333" stroke="#333" stroke-width="0.0">1</text>
<text transform="translate(452.50,283.00) scale(0.8,1)" font-size="7.0" text-anchor="middle" fill="#333" stroke="#333" stroke-width="0.0">2</text>
<text transform="translate(497.20,283.00) scale(0.8,1)" font-size="7.0" text-anchor="middle" fill="#333" stroke="#333" stroke-width="0.0">3</text>
<polyline points="407.80,222.30 452.50,225.90 497.20,231.50" fill="none" stroke="#3e3e3e" stroke-width="1.0"/>
<line x1="407.80" y1="218.50" x2="407.80" y2="227.30" stroke="#222" stroke-width="0.95"/>
<line x1="405.90" y1="218.50" x2="409.70" y2="218.50" stroke="#111" stroke-width="1.2"/>
<line x1="405.90" y1="227.30" x2="409.70" y2="227.30" stroke="#111" stroke-width="1.2"/>
<line x1="452.50" y1="225.10" x2="452.50" y2="226.70" stroke="#222" stroke-width="0.95"/>
<line x1="450.60" y1="225.10" x2="454.40" y2="225.10" stroke="#111" stroke-width="1.2"/>
<line x1="450.60" y1="226.70" x2="454.40" y2="226.70" stroke="#111" stroke-width="1.2"/>
<line x1="497.20" y1="227.90" x2="497.20" y2="235.50" stroke="#222" stroke-width="0.95"/>
<line x1="495.30" y1="227.90" x2="499.10" y2="227.90" stroke="#111" stroke-width="1.2"/>
<line x1="495.30" y1="235.50" x2="499.10" y2="235.50" stroke="#111" stroke-width="1.2"/>
<rect x="406.40" y="220.90" width="2.80" height="2.80" fill="#222" stroke="#222" stroke-width="0.5"/>
<rect x="451.10" y="224.50" width="2.80" height="2.80" fill="#222" stroke="#222" stroke-width="0.5"/>
<rect x="495.80" y="230.10" width="2.80" height="2.80" fill="#222" stroke="#222" stroke-width="0.5"/>
<polyline points="407.80,219.50 452.50,213.00 497.20,205.50" fill="none" stroke="#3e3e3e" stroke-width="1.0"/>
<line x1="407.80" y1="216.90" x2="407.80" y2="222.00" stroke="#222" stroke-width="0.95"/>
<line x1="405.90" y1="216.90" x2="409.70" y2="216.90" stroke="#111" stroke-width="1.2"/>
<line x1="405.90" y1="222.00" x2="409.70" y2="222.00" stroke="#111" stroke-width="1.2"/>
<line x1="452.50" y1="208.20" x2="452.50" y2="217.80" stroke="#222" stroke-width="0.95"/>
<line x1="450.60" y1="208.20" x2="454.40" y2="208.20" stroke="#111" stroke-width="1.2"/>
<line x1="450.60" y1="217.80" x2="454.40" y2="217.80" stroke="#111" stroke-width="1.2"/>
<line x1="497.20" y1="198.50" x2="497.20" y2="212.40" stroke="#222" stroke-width="0.95"/>
<line x1="495.30" y1="198.50" x2="499.10" y2="198.50" stroke="#111" stroke-width="1.2"/>
<line x1="495.30" y1="212.40" x2="499.10" y2="212.40" stroke="#111" stroke-width="1.2"/>
<rect x="406.40" y="218.10" width="2.80" height="2.80" fill="#fff" stroke="#222" stroke-width="0.8"/>
<circle cx="452.50" cy="213.00" r="1.5" fill="#fff" stroke="#1c1c1c" stroke-width="1.0"/>
<circle cx="497.20" cy="205.50" r="1.5" fill="#fff" stroke="#1c1c1c" stroke-width="1.0"/>
<polygon points="452.50,202.35 453.00,203.61 454.35,203.70 453.31,204.56 453.65,205.88 452.50,205.15 451.35,205.88 451.69,204.56 450.65,203.70 452.00,203.61" fill="#111" stroke="#111" stroke-width="0.3"/>
<polygon points="497.20,192.35 497.70,193.61 499.05,193.70 498.01,194.56 498.35,195.88 497.20,195.15 496.05,195.88 496.39,194.56 495.35,193.70 496.70,193.61" fill="#111" stroke="#111" stroke-width="0.3"/>
<rect x="464.50" y="246.80" width="9.00" height="6.70" fill="#fff" stroke="#000" stroke-width="1.3"/>
<rect x="464.50" y="257.50" width="9.00" height="6.40" fill="#444" stroke="#111" stroke-width="1.3"/>
<text x="476.70" y="253.20" font-size="8.6" text-anchor="start" font-weight="bold" fill="#000" letter-spacing="0.03" stroke="#000" stroke-width="0.12">Rag-1KO</text>
<text x="476.70" y="263.90" font-size="8.6" text-anchor="start" font-weight="bold" fill="#000" letter-spacing="0.03" stroke="#000" stroke-width="0.12">DKO</text>
<text x="379.40" y="166.90" font-size="12.4" text-anchor="start" font-weight="bold" fill="#000" >F</text>
<text transform="translate(200.2,141.55) rotate(-90)" font-size="11.1" font-weight="bold" text-anchor="middle" fill="#000" stroke="#000" stroke-width="0.15">Log( LM CFU/gram liver)</text>
<text transform="translate(377.2,134.25) rotate(-90)" font-size="11.1" font-weight="bold" text-anchor="middle" fill="#000" stroke="#000" stroke-width="0.15">Log( LM CFU/gram spleen)</text>
<text x="278.30" y="297.90" font-size="10.8" text-anchor="middle" font-weight="bold" fill="#000" letter-spacing="0.13" stroke="#000" stroke-width="0.2">Days after LM infection</text>
</g>
</svg>
</body></html>
